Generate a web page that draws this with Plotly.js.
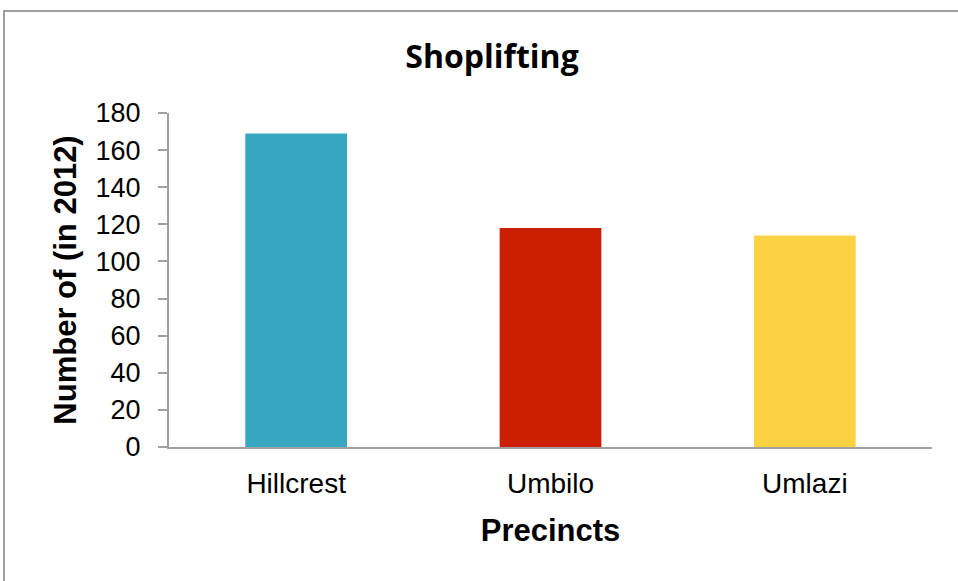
<!DOCTYPE html>
<html>
<head>
<meta charset="utf-8">
<script src="https://cdn.plot.ly/plotly-3.0.1.min.js"></script>
<style>
html,body{margin:0;padding:0;background:#fff;}
#chart{width:958px;height:581px;}
.plot .bars path{filter:drop-shadow(1px 1px 3px rgba(0,0,0,0.35));}
</style>
</head>
<body>
<div id="chart"></div>
<script>
const categories = ["Hillcrest", "Umbilo", "Umlazi"];
const values = [169, 118, 114];
const barColors = ["#37A6C1", "#CC1E00", "#FCD243"];
const yTicks = [0, 20, 40, 60, 80, 100, 120, 140, 160, 180];

const W = 958, H = 581;
const mL = 169, mR = 26, mT = 113, mB = 134;
const pw = W - mL - mR, ph = H - mT - mB;

const trace = {
  type: "bar",
  x: categories,
  y: values,
  marker: {color: barColors, line: {width: 0}},
  hoverinfo: "x+y"
};

const layout = {
  width: W, height: H,
  margin: {l: mL, r: mR, t: mT, b: mB, pad: 0},
  paper_bgcolor: "#ffffff",
  plot_bgcolor: "#ffffff",
  showlegend: false,
  bargap: 0.6,
  title: {
    text: "<b>Shoplifting</b>",
    font: {family: "Open Sans, DejaVu Sans, sans-serif", size: 32, color: "#000"},
    x: 492 / W, xref: "container", xanchor: "center",
    y: 1 - 57 / H, yref: "container", yanchor: "middle"
  },
  xaxis: {
    type: "category",
    showgrid: false,
    zeroline: false,
    showline: true,
    linecolor: "#a0a0a0",
    linewidth: 2,
    ticks: "",
    ticklabelstandoff: 10,
    tickfont: {family: "Liberation Sans, Arial, sans-serif", size: 28, color: "#000"},
    title: {
      text: "<b>Precincts</b>",
      font: {family: "Liberation Sans, Arial, sans-serif", size: 31, color: "#000"},
      standoff: 22
    }
  },
  yaxis: {
    range: [0, 180],
    tickvals: yTicks,
    ticktext: yTicks.map(String),
    showgrid: false,
    zeroline: false,
    showline: true,
    linecolor: "#a0a0a0",
    linewidth: 2,
    ticks: "outside",
    ticklen: 9,
    tickwidth: 2,
    tickcolor: "#a0a0a0",
    ticklabelstandoff: 12,
    tickfont: {family: "Liberation Sans, Arial, sans-serif", size: 27, color: "#000"},
    title: {
      text: "<b>Number of (in 2012)</b>",
      font: {family: "Liberation Sans, Arial, sans-serif", size: 31, color: "#000"},
      standoff: 10
    }
  },
  shapes: [{
    type: "rect",
    xref: "paper", yref: "paper",
    x0: (4 - mL) / pw, x1: (W + 20 - mL) / pw,
    y0: -(H + 20 - (H - mB)) / ph, y1: (H - mB - 11) / ph,
    line: {color: "#a0a0a0", width: 2},
    fillcolor: "rgba(0,0,0,0)",
    layer: "below"
  }]
};

Plotly.newPlot("chart", [trace], layout, {displayModeBar: false, staticPlot: true});
</script>
</body>
</html>
